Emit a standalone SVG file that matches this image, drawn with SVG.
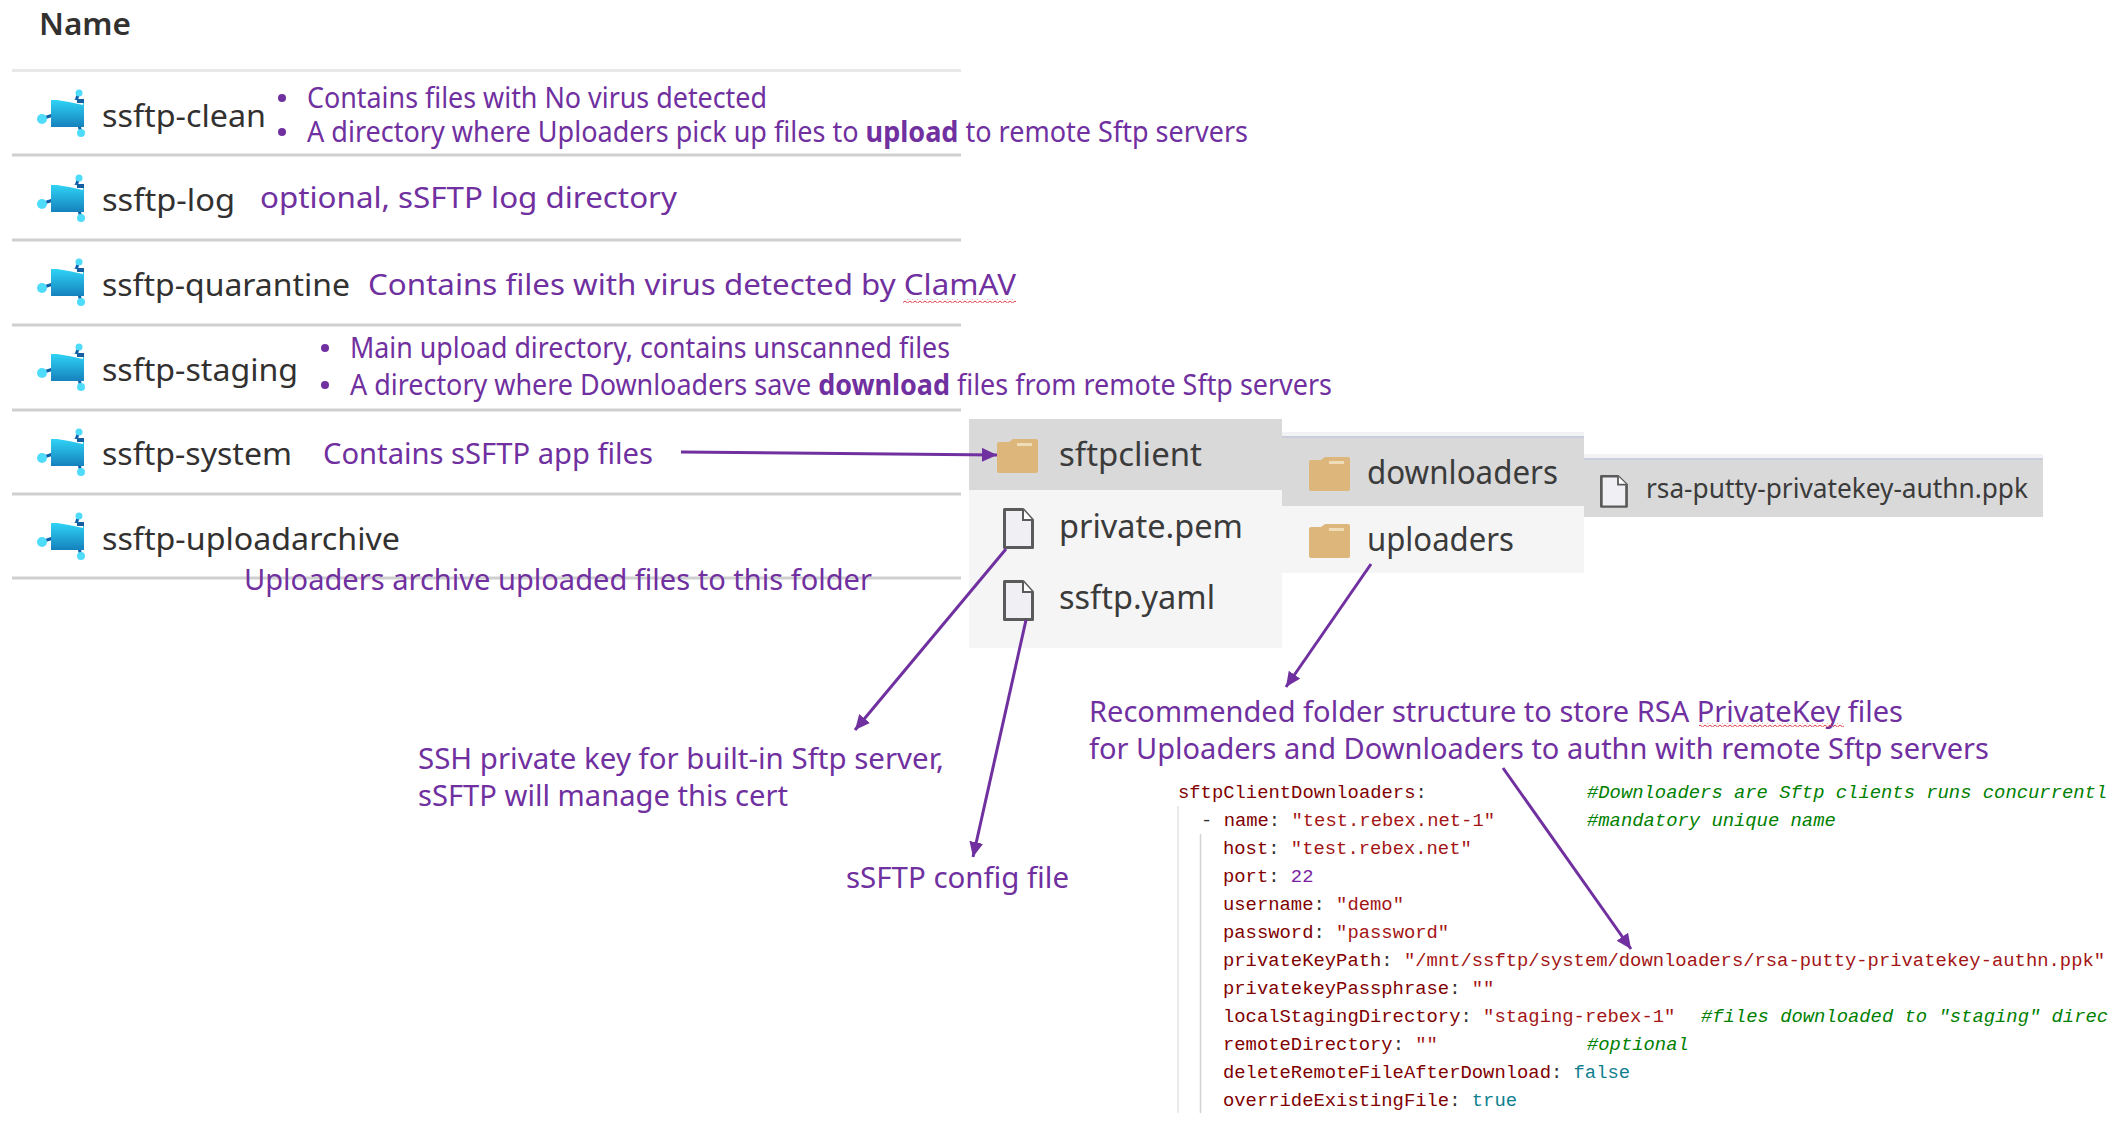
<svg xmlns="http://www.w3.org/2000/svg" width="2113" height="1121" viewBox="0 0 2113 1121">
<style>
text{font-family:"Noto Sans","Open Sans","Liberation Sans",sans-serif;white-space:pre}
.n{font-size:31px;fill:#323130}
.p{font-size:29px;fill:#7030A0}
.f{font-size:32px;fill:#3b3b3b}
.c{font-family:"Liberation Mono","DejaVu Sans Mono",monospace;font-size:18.85px;fill:#800000}
.c .s{fill:#a31515}.c .g{fill:#008000;font-style:italic}.c .b{fill:#0f7f8f}.c .m{fill:#7a1fa2}.c .d{fill:#333}
.r{stroke:#cfcfcf;stroke-width:3;fill:none}
.a{stroke:#7030A0;stroke-width:3;fill:none;marker-end:url(#ah)}
.dot{fill:#7030A0}
.g1{fill:#d9d9d9}.g2{fill:#f5f5f5}.g3{fill:#f3f3f5}.g4{fill:#c9cddc}
</style>
<defs>
<marker id="ah" markerUnits="userSpaceOnUse" markerWidth="18" markerHeight="16" refX="15" refY="7" orient="auto"><path d="M0 0L15 7L0 14z" fill="#7030A0"/></marker>
<linearGradient id="fg" x1="0" y1="0" x2="0" y2="1"><stop offset="0" stop-color="#2fd3f5"/><stop offset="1" stop-color="#1581bd"/></linearGradient>
<pattern id="sq" width="5" height="4" patternUnits="userSpaceOnUse"><path d="M0 1L2.5 3L5 1" fill="none" stroke="#e0404a" stroke-width="1"/></pattern>
<g id="az">
<path d="M42 119L54 115M80 92L77 101L66 101M80 125L82 133" stroke="#0f5fa8" stroke-width="3" fill="none"/>
<circle cx="43" cy="119" r="5" fill="#4fdcfb"/><circle cx="80" cy="93" r="3.500" fill="#4fdcfb"/><circle cx="82" cy="133" r="4" fill="#4fdcfb"/>
<path d="M52 100H85V127H52z" fill="url(#fg)"/><path d="M58 100L70 98L84 102V105L70 102z" fill="#fff"/><path d="M78 99H85V103H78z" fill="#155fa0"/>
</g>
<g id="fo"><path d="M0 5q0-2 2-2H12L16 0H39q2 0 2 2V32q0 2-2 2H2q-2 0-2-2z" fill="#dcb67a"/><path d="M20 4H35V7H20z" fill="#efdcb8"/></g>
<g id="fi"><path d="M1.500 1.500H20L29.500 12V39.500H1.500z" fill="#f0f0f4" stroke="#5a5a5a" stroke-width="3" stroke-linejoin="round"/><path d="M20 1.500V12H29.500" fill="#fff" stroke="#5a5a5a" stroke-width="2"/></g>
</defs>
<rect width="2113" height="1121" fill="#fff"/>

<g id="panels">
<rect class="g1" x="969" y="419" width="313" height="71"/><rect class="g2" x="969" y="490" width="313" height="158"/>
<rect class="g3" x="1282" y="432" width="302" height="5"/><rect class="g4" x="1282" y="436" width="302" height="2"/><rect class="g1" x="1282" y="438" width="302" height="68"/><rect class="g2" x="1282" y="506" width="302" height="67"/>
<rect class="g3" x="1584" y="454" width="459" height="5"/><rect class="g4" x="1584" y="458" width="459" height="2"/><rect class="g1" x="1584" y="460" width="459" height="57"/>
</g>

<g id="rows">
<path class="r" style="stroke:#e8e8e8" d="M12 70.500H961"/><path class="r" d="M12 155H961M12 240H961M12 325H961M12 410H961M12 494H961M12 578H961"/>
</g>
<text id="header" x="39" y="35" font-size="30" font-weight="600" fill="#323130" textLength="92" lengthAdjust="spacingAndGlyphs">Name</text>

<g id="node-clean"><use href="#az" x="-1"/><text class="n" x="102" y="127" textLength="164" lengthAdjust="spacingAndGlyphs">ssftp-clean</text>
<circle class="dot" cx="282" cy="98" r="4"/><circle class="dot" cx="282" cy="132" r="4"/>
<text class="p" x="307" y="108" textLength="460" lengthAdjust="spacingAndGlyphs">Contains files with No virus detected</text>
<text class="p" x="307" y="142" textLength="941" lengthAdjust="spacingAndGlyphs">A directory where Uploaders pick up files to <tspan font-weight="700">upload</tspan> to remote Sftp servers</text></g>

<g id="node-log"><use href="#az" x="-1" y="85"/><text class="n" x="102" y="211" textLength="133" lengthAdjust="spacingAndGlyphs">ssftp-log</text>
<text class="p" x="260" y="208" textLength="417" lengthAdjust="spacingAndGlyphs">optional, sSFTP log directory</text></g>

<g id="node-quarantine"><use href="#az" x="-1" y="169"/><text class="n" x="102" y="296" textLength="248" lengthAdjust="spacingAndGlyphs">ssftp-quarantine</text>
<text class="p" x="368" y="295" textLength="648" lengthAdjust="spacingAndGlyphs">Contains files with virus detected by ClamAV</text>
<rect x="903" y="299" width="113" height="4" fill="url(#sq)"/></g>

<g id="node-staging"><use href="#az" x="-1" y="254"/><text class="n" x="102" y="381" textLength="196" lengthAdjust="spacingAndGlyphs">ssftp-staging</text>
<circle class="dot" cx="325" cy="348" r="4"/><circle class="dot" cx="325" cy="385" r="4"/>
<text class="p" x="350" y="358" textLength="600" lengthAdjust="spacingAndGlyphs">Main upload directory, contains unscanned files</text>
<text class="p" x="350" y="395" textLength="982" lengthAdjust="spacingAndGlyphs">A directory where Downloaders save <tspan font-weight="700">download</tspan> files from remote Sftp servers</text></g>

<g id="node-system"><use href="#az" x="-1" y="339"/><text class="n" x="102" y="465" textLength="190" lengthAdjust="spacingAndGlyphs">ssftp-system</text>
<text class="p" x="323" y="464" textLength="330" lengthAdjust="spacingAndGlyphs">Contains sSFTP app files</text></g>

<g id="node-uploadarchive"><use href="#az" x="-1" y="423"/><text class="n" x="102" y="550" textLength="298" lengthAdjust="spacingAndGlyphs">ssftp-uploadarchive</text>
<text class="p" x="244" y="590" textLength="628" lengthAdjust="spacingAndGlyphs">Uploaders archive uploaded files to this folder</text></g>

<g id="node-sftpclient"><use href="#fo" transform="translate(997 439)"/><text class="f" x="1059" y="466" textLength="143" lengthAdjust="spacingAndGlyphs">sftpclient</text></g>
<g id="node-private"><use href="#fi" transform="translate(1003 508)"/><text class="f" x="1059" y="538" textLength="184" lengthAdjust="spacingAndGlyphs">private.pem</text></g>
<g id="node-yaml"><use href="#fi" transform="translate(1003 580)"/><text class="f" x="1059" y="609" textLength="156" lengthAdjust="spacingAndGlyphs">ssftp.yaml</text></g>
<g id="node-downloaders"><use href="#fo" transform="translate(1309 457)"/><text class="f" x="1367" y="484" textLength="191" lengthAdjust="spacingAndGlyphs">downloaders</text></g>
<g id="node-uploaders"><use href="#fo" transform="translate(1309 524)"/><text class="f" x="1367" y="551" textLength="147" lengthAdjust="spacingAndGlyphs">uploaders</text></g>
<g id="node-ppk"><use href="#fi" transform="translate(1600 475) scale(.9 .8)"/><text class="f" style="font-size:27px" x="1646" y="498" textLength="382" lengthAdjust="spacingAndGlyphs">rsa-putty-privatekey-authn.ppk</text></g>

<g id="node-labels">
<text class="p" x="418" y="769" textLength="526" lengthAdjust="spacingAndGlyphs">SSH private key for built-in Sftp server,</text>
<text class="p" x="418" y="806" textLength="370" lengthAdjust="spacingAndGlyphs">sSFTP will manage this cert</text>
<text class="p" x="846" y="888" textLength="223" lengthAdjust="spacingAndGlyphs">sSFTP config file</text>
<text class="p" x="1089" y="722" textLength="814" lengthAdjust="spacingAndGlyphs">Recommended folder structure to store RSA PrivateKey files</text>
<text class="p" x="1089" y="759" textLength="900" lengthAdjust="spacingAndGlyphs">for Uploaders and Downloaders to authn with remote Sftp servers</text>
<rect x="1699" y="723" width="145" height="4" fill="url(#sq)"/>
</g>

<g id="code">
<path d="M1178 806V1113" stroke="#e4e4e4" stroke-width="1.500"/><path d="M1200.500 834V1113" stroke="#d4d4d4" stroke-width="1.500"/>
<text class="c" x="1178" y="798">sftpClientDownloaders<tspan class="d">:</tspan></text><text class="c" x="1587" y="798"><tspan class="g">#Downloaders are Sftp clients runs concurrentl</tspan></text>
<text class="c" x="1201" y="826"><tspan class="d">- </tspan>name<tspan class="d">: </tspan><tspan class="s">"test.rebex.net-1"</tspan></text><text class="c" x="1587" y="826"><tspan class="g">#mandatory unique name</tspan></text>
<text class="c" x="1223" y="854">host<tspan class="d">: </tspan><tspan class="s">"test.rebex.net"</tspan></text>
<text class="c" x="1223" y="882">port<tspan class="d">: </tspan><tspan class="m">22</tspan></text>
<text class="c" x="1223" y="910">username<tspan class="d">: </tspan><tspan class="s">"demo"</tspan></text>
<text class="c" x="1223" y="938">password<tspan class="d">: </tspan><tspan class="s">"password"</tspan></text>
<text class="c" x="1223" y="966">privateKeyPath<tspan class="d">: </tspan><tspan class="s">"/mnt/ssftp/system/downloaders/rsa-putty-privatekey-authn.ppk"</tspan></text>
<text class="c" x="1223" y="994">privatekeyPassphrase<tspan class="d">: </tspan><tspan class="s">""</tspan></text>
<text class="c" x="1223" y="1022">localStagingDirectory<tspan class="d">: </tspan><tspan class="s">"staging-rebex-1"</tspan></text><text class="c" x="1701" y="1022"><tspan class="g">#files downloaded to "staging" direc</tspan></text>
<text class="c" x="1223" y="1050">remoteDirectory<tspan class="d">: </tspan><tspan class="s">""</tspan></text><text class="c" x="1587" y="1050"><tspan class="g">#optional</tspan></text>
<text class="c" x="1223" y="1078">deleteRemoteFileAfterDownload<tspan class="d">: </tspan><tspan class="b">false</tspan></text>
<text class="c" x="1223" y="1106">overrideExistingFile<tspan class="d">: </tspan><tspan class="b">true</tspan></text>
</g>

<g id="connectors">
<path class="a" d="M681 452L997 455"/>
<path class="a" d="M1006 549L855 730"/>
<path class="a" d="M1026 620L973 857"/>
<path class="a" d="M1371 564L1286 687"/>
<path class="a" d="M1503 768L1631 949"/>
</g>
</svg>
